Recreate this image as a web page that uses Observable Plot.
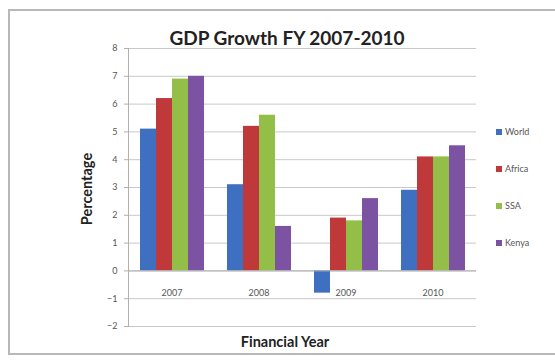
<!DOCTYPE html>
<html>
<head>
<meta charset="utf-8">
<script src="https://cdn.jsdelivr.net/npm/d3@7"></script>
<script src="https://cdn.jsdelivr.net/npm/@observablehq/plot@0.6"></script>
<style>
  html, body { margin: 0; padding: 0; background: #fff; }
  #wrap { position: relative; width: 555px; height: 364px; overflow: hidden; font-family: Lato, "Open Sans", sans-serif; }
  #border { position: absolute; left: 8px; top: 9px; width: 560px; height: 346px; border: 2px solid #b8b8b8; box-sizing: border-box; }
  #title { position: absolute; left: 0; width: 574px; top: 26px; text-align: center; font-weight: bold; font-size: 19px; color: #222; }
  #ylabel { position: absolute; left: 86px; top: 189px; transform: translate(-50%, -50%) rotate(-90deg); font-weight: bold; font-size: 14.5px; color: #222; white-space: nowrap; }
  #xlabel { position: absolute; left: 0; width: 570px; top: 333px; text-align: center; font-weight: bold; font-size: 14.5px; color: #222; }
  #legend { position: absolute; left: 496px; top: 126px; }
  .item { height: 37px; font-size: 9px; color: #555; display: flex; align-items: flex-start; line-height: 12px; }
  .sw { width: 6px; height: 6px; margin: 3px 3px 0 0; }
  svg { position: absolute; left: 0; top: 0; }
</style>
</head>
<body>
<div id="wrap">
  <div id="border"></div>
</div>
<script>
const years = ["2007", "2008", "2009", "2010"];
const series = ["World", "Africa", "SSA", "Kenya"];
const world  = [5.1, 3.1, -0.8, 2.9];
const africa = [6.2, 5.2, 1.9, 4.1];
const ssa    = [6.9, 5.6, 1.8, 4.1];
const kenya  = [7.0, 1.6, 2.6, 4.5];
const yTicks = [-2, -1, 0, 1, 2, 3, 4, 5, 6, 7, 8];
const colors = ["#3f6fc0", "#c0393a", "#93bf48", "#7c52a3"];
const titleText = "GDP Growth FY 2007-2010";
const xTitle = "Financial Year";
const yTitle = "Percentage";

const valuesBySeries = [world, africa, ssa, kenya];
const rows = [];
years.forEach((yr, i) => series.forEach((s, j) => rows.push({year: yr, series: s, value: valuesBySeries[j][i]})));

const chart = Plot.plot({
  width: 555,
  height: 364,
  marginLeft: 127,
  marginRight: 78,
  marginTop: 48,
  marginBottom: 38,
  style: {fontFamily: "Lato, 'Open Sans', sans-serif", fontSize: "9px", color: "#555", background: "transparent"},
  fx: {domain: years, padding: 0, label: null},
  x: {domain: series, paddingInner: 0, paddingOuter: 0.68, axis: null},
  y: {domain: [-2, 8], label: null},
  color: {domain: series, range: colors},
  marks: [
    Plot.gridY(yTicks, {stroke: "#c8c8c8", strokeOpacity: 1}),
    Plot.barY(rows, {fx: "year", x: "series", y: "value", fill: "series"}),
    Plot.ruleY([0], {stroke: "#b0b0b0"}),
    Plot.frame({anchor: "left", facetAnchor: "left", stroke: "#b0b0b0"}),
    Plot.axisY(yTicks, {tickSize: 4, stroke: "#b0b0b0", tickPadding: 7, label: null, fill: "#555"}),
    Plot.axisFx({anchor: "bottom", tickSize: 0, tickPadding: 0, dy: -37, label: null, fill: "#555"})
  ]
});

const wrap = document.getElementById("wrap");
wrap.appendChild(chart);

const t = document.createElement("div"); t.id = "title"; t.textContent = titleText; wrap.appendChild(t);
const yl = document.createElement("div"); yl.id = "ylabel"; yl.textContent = yTitle; wrap.appendChild(yl);
const xl = document.createElement("div"); xl.id = "xlabel"; xl.textContent = xTitle; wrap.appendChild(xl);
const lg = document.createElement("div"); lg.id = "legend";
series.forEach((s, i) => {
  const it = document.createElement("div"); it.className = "item";
  const sw = document.createElement("span"); sw.className = "sw"; sw.style.background = colors[i];
  const tx = document.createElement("span"); tx.textContent = s;
  it.appendChild(sw); it.appendChild(tx); lg.appendChild(it);
});
wrap.appendChild(lg);
</script>
</body>
</html>
